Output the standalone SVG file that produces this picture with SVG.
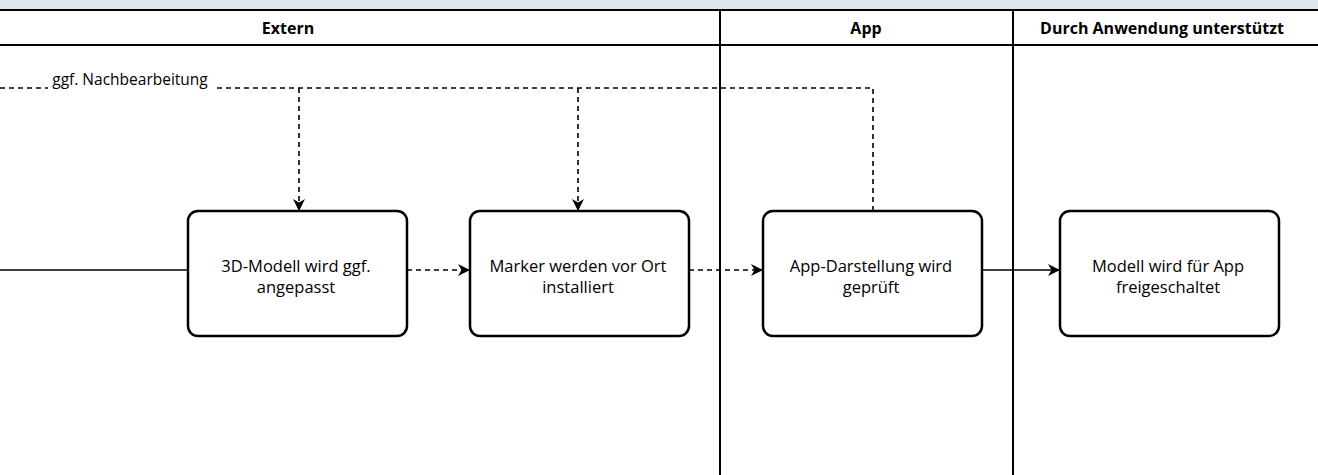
<svg xmlns="http://www.w3.org/2000/svg" width="1318" height="475" viewBox="0 0 1318 475">
<style>
.hdr{font-family:"Open Sans","Liberation Sans",sans-serif;font-weight:bold;font-size:16px;fill:#000;text-anchor:middle}
.lbl{font-family:"Open Sans","Liberation Sans",sans-serif;font-size:16.5px;fill:#000;text-anchor:middle}
.box{fill:#fff;stroke:#000;stroke-width:2.5}
.lane{stroke:#000;stroke-width:2;fill:none}
.c{stroke:#000;stroke-width:1.6;fill:none}
.d{stroke-dasharray:5 4}
</style>
<defs>
<marker id="arr" viewBox="0 0 12 12" refX="11" refY="6" markerWidth="12" markerHeight="12" markerUnits="userSpaceOnUse" orient="auto">
<path d="M0,0 L12,6 L0,12 L3.5,6 Z" fill="#000"/>
</marker>
</defs>
<rect x="0" y="0" width="1318" height="10" fill="#dfe6ee"/>
<rect x="0" y="10" width="1318" height="465" fill="#fff"/>
<g id="lanes">
<line class="lane" x1="0" y1="10" x2="1318" y2="10"/>
<line class="lane" x1="0" y1="45" x2="1318" y2="45"/>
<line class="lane" x1="720" y1="10" x2="720" y2="475"/>
<line class="lane" x1="1013" y1="10" x2="1013" y2="475"/>
<text class="hdr" x="288" y="34">Extern</text>
<text class="hdr" x="866" y="34">App</text>
<text class="hdr" x="1162" y="34">Durch Anwendung unterstützt</text>
</g>
<g id="connectors">
<line class="c" x1="0" y1="270" x2="188" y2="270"/>
<path class="c d" d="M0,88 H48"/>
<text class="lbl" x="130" y="85" style="font-size:15.5px">ggf. Nachbearbeitung</text>
<path class="c d" d="M873,211 V88 H217"/>
<path class="c d" d="M299,88 V210" marker-end="url(#arr)"/>
<path class="c d" d="M578,88 V210" marker-end="url(#arr)"/>
<path class="c d" d="M407,270 H469" marker-end="url(#arr)"/>
<path class="c d" d="M689,270 H762" marker-end="url(#arr)"/>
<path class="c" d="M982,270 H1059" marker-end="url(#arr)"/>
</g>
<g id="n1"><rect class="box" x="188" y="211" width="219" height="125" rx="10"/>
<text class="lbl" x="296" y="272">3D-Modell wird ggf.</text><text class="lbl" x="296" y="293">angepasst</text></g>
<g id="n2"><rect class="box" x="470" y="211" width="219" height="125" rx="10"/>
<text class="lbl" x="578" y="272">Marker werden vor Ort</text><text class="lbl" x="578" y="293">installiert</text></g>
<g id="n3"><rect class="box" x="763" y="211" width="219" height="125" rx="10"/>
<text class="lbl" x="871" y="272">App-Darstellung wird</text><text class="lbl" x="871" y="293">geprüft</text></g>
<g id="n4"><rect class="box" x="1060" y="211" width="219" height="125" rx="10"/>
<text class="lbl" x="1168" y="272">Modell wird für App</text><text class="lbl" x="1168" y="293">freigeschaltet</text></g>
</svg>
